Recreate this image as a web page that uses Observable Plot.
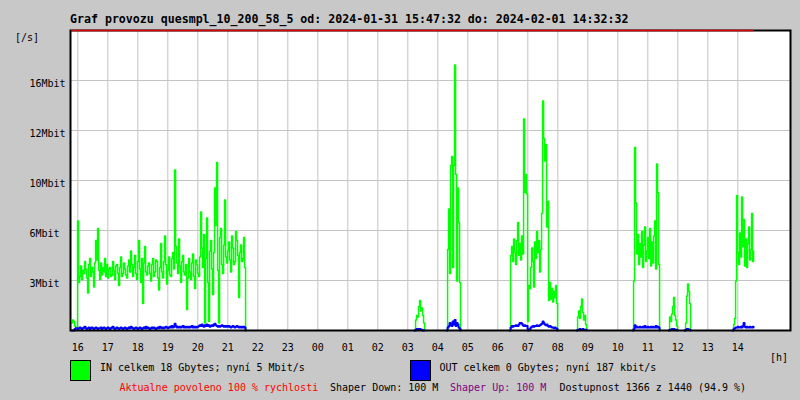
<!DOCTYPE html>
<html>
<head>
<meta charset="utf-8">
<script src="https://cdn.jsdelivr.net/npm/d3@7"></script>
<script src="https://cdn.jsdelivr.net/npm/@observablehq/plot@0.6"></script>
<style>
  html, body { margin: 0; padding: 0; background: #c8c8c8; }
  #wrap { position: relative; width: 800px; height: 400px; background: #c8c8c8; overflow: hidden; }
  #chart { position: absolute; left: 0; top: 0; }
  #overlay { position: absolute; left: 0; top: 0; pointer-events: none; }
  #overlay text { font-family: "DejaVu Sans Mono", monospace; font-size: 10px; }
</style>
</head>
<body>
<div id="wrap">
  <div id="chart"></div>
  <svg id="overlay" width="800" height="400">
    <text x="70" y="22.5" style="font-size:11.6px;font-weight:bold">Graf provozu quesmpl_10_200_58_5 od: 2024-01-31 15:47:32 do: 2024-02-01 14:32:32</text>
    <text x="15" y="40.5">[/s]</text>
    <text x="770" y="360.5">[h]</text>
    <rect x="70.5" y="360.5" width="20" height="20" fill="#00ff00" stroke="black"/>
    <text x="100" y="370.5">IN celkem 18 Gbytes; nyní 5 Mbit/s</text>
    <rect x="410.5" y="360.5" width="20" height="20" fill="#0000ff" stroke="black"/>
    <text x="439.5" y="370.5">OUT celkem 0 Gbytes; nyní 187 kbit/s</text>
    <text x="119.5" y="391" fill="#ff0000">Aktualne povoleno 100 % rychlosti</text>
    <text x="330" y="391" fill="#000000">Shaper Down: 100 M</text>
    <text x="450" y="391" fill="#800080">Shaper Up: 100 M</text>
    <text x="559.5" y="391" fill="#000000">Dostupnost 1366 z 1440 (94.9 %)</text>
  </svg>
</div>
<script>
// ---- data (Mbit/s) ----
const hourLabels = ["16","17","18","19","20","21","22","23","00","01","02","03","04","05","06","07","08","09","10","11","12","13","14"];
const yTicks = [3.333, 6.667, 10, 13.333, 16.667];
const yTickLabels = ["3Mbit", "6Mbit", "10Mbit", "12Mbit", "16Mbit"];
const periodStart = "2024-01-31T15:47:32Z";
const periodEnd = "2024-02-01T14:32:32Z";

const segStarts = ["2024-01-31T15:47:32Z", "2024-02-01T03:13:32Z", "2024-02-01T04:17:32Z", "2024-02-01T06:23:32Z",
                   "2024-02-01T08:37:32Z", "2024-02-01T10:29:32Z", "2024-02-01T11:41:32Z", "2024-02-01T12:13:32Z", "2024-02-01T13:49:32Z"];
const segStepMinutes = [2, 2, 2, 2, 2, 2, 2, 2, 2];

const inA = [0.5,0.7,0.6,0.3,0.2,0.2,
             7.3,
             3.2,3.6,4.3,3.4,4.0,3.8,4.6,4.1,3.5,2.5,
             4.4,4.8,3.6,4.2,3.9,2.9,4.5,6.0,4.7,6.8,
             4.0,3.4,4.5,3.7,4.2,3.9,4.8,3.6,4.4,3.5,
             4.1,4.2,3.6,3.7,4.6,4.0,3.4,4.3,4.4,3.8,
             3.0,4.2,4.9,3.6,3.8,4.5,4.1,3.7,3.5,4.3,
             4.7,3.9,5.3,4.4,3.6,4.2,5.0,3.8,3.4,4.6,
             6.0,4.1,3.2,4.8,1.8,4.5,5.6,3.9,3.7,4.3,
             4.5,3.8,3.3,4.4,4.8,3.6,3.9,4.7,4.6,3.5,
             2.7,4.2,5.8,3.9,3.5,4.6,6.3,4.4,3.1,4.0,
             4.9,3.7,3.6,4.8,5.2,4.1,10.7,5.6,4.5,3.8,
             6.1,4.3,3.2,4.6,5.0,3.9,3.7,4.4,1.4,3.5,
             4.8,3.9,3.4,4.5,5.1,3.6,2.8,4.7,4.4,3.8,
             3.6,4.9,7.9,5.5,4.2,6.4,0.5,4.8,7.5,3.2,
             0.6,5.3,6.0,4.1,2.4,5.2,9.5,7.0,11.2,4.0,
             0.5,6.2,6.8,4.4,3.8,5.7,8.7,4.9,4.5,5.3,
             5.9,4.7,3.9,6.3,5.5,4.4,4.6,6.6,6.0,5.0,
             2.2,5.2,5.7,4.6,4.8,6.2,4.2,
             0];
const inB = [0,0.7,1.0,0.9,1.6,2.0,1.3,1.5,1.0,0.5,0];
const inC = [0,5.4,8.1,3.8,11.0,11.6,4.2,11.0,17.7,10.4,3.3,9.5,7.2,3.2,0];
const inD = [0,5.0,5.6,4.6,6.1,5.2,4.4,6.0,7.2,5.0,5.8,4.7,6.3,5.1,14.1,9.2,10.4,9.1,0.6,3.0,
             2.8,4.2,5.5,4.6,2.9,5.9,4.8,6.6,5.2,6.0,3.9,5.4,7.8,15.3,12.8,11.3,12.4,6.9,8.6,2.0,
             3.2,2.1,2.8,1.9,2.6,2.2,3.0,1.8,0];
const inE = [0,0.9,1.3,0.8,1.6,2.1,1.2,0.7,1.0,0.4,0];
const inF = [0,3.3,12.2,8.5,5.1,6.4,4.4,5.8,4.9,6.6,4.2,5.7,6.9,4.6,5.3,6.2,4.8,6.8,4.3,5.9,
             4.5,6.3,7.3,4.1,11.1,9.2,4.4,0];
const inG = [0,0.9,0.6,1.1,1.6,2.2,1.0,0.7,0.3,0];
const inH = [0,0.5,2.3,3.1,2.6,1.8,0];
const inI = [0,0.4,0.8,3.3,9.0,5.2,4.4,6.5,4.9,8.9,5.6,7.4,4.3,6.1,4.2,5.8,6.9,4.7,5.4,7.8,4.6,5.3];

const outA = [0,0,0,0.1,0.15,0.15,
              0.1,0.15,0.2,0.15,0.1,0.15,0.2,0.25,0.15,0.1,
              0.15,0.2,0.1,0.15,0.2,0.15,0.1,0.15,0.2,0.15,
              0.1,0.15,0.15,0.2,0.1,0.15,0.2,0.15,0.1,0.15,
              0.2,0.15,0.1,0.15,0.2,0.25,0.15,0.1,0.15,0.2,
              0.15,0.1,0.15,0.2,0.15,0.1,0.15,0.2,0.15,0.1,
              0.15,0.2,0.15,0.25,0.2,0.15,0.1,0.15,0.2,0.15,
              0.1,0.15,0.2,0.15,0.1,0.15,0.2,0.15,0.25,0.15,
              0.2,0.15,0.1,0.15,0.2,0.15,0.2,0.15,0.1,0.15,
              0.2,0.15,0.25,0.2,0.15,0.2,0.15,0.2,0.25,0.2,
              0.15,0.2,0.25,0.2,0.3,0.2,0.25,0.45,0.3,0.2,
              0.25,0.2,0.25,0.2,0.25,0.3,0.2,0.25,0.2,0.25,
              0.2,0.25,0.2,0.25,0.3,0.2,0.25,0.2,0.25,0.2,
              0.25,0.3,0.35,0.3,0.4,0.3,0.25,0.35,0.3,0.4,
              0.3,0.35,0.25,0.3,0.35,0.3,0.4,0.45,0.35,0.3,
              0.25,0.3,0.25,0.3,0.35,0.3,0.25,0.3,0.25,0.3,
              0.25,0.3,0.25,0.2,0.25,0.3,0.25,0.2,0.25,0.3,
              0.25,0.2,0.25,0.2,0.25,0.2,0.25,0.2,
              0];
const outB = [0,0.05,0.1,0.1,0.05,0.1,0.05,0.05,0,0,0];
const outC = [0,0.2,0.3,0.5,0.4,0.3,0.6,0.4,0.7,0.3,0.5,0.4,0.2,0.1,0];
const outD = [0,0.2,0.3,0.25,0.3,0.3,0.35,0.3,0.3,0.4,0.5,0.5,0.45,0.35,0.3,0.35,0.3,0.3,0,0.05,
              0.1,0.2,0.25,0.3,0.25,0.3,0.3,0.35,0.3,0.3,0.35,0.4,0.45,0.6,0.5,0.4,0.35,0.4,0.3,0.25,
              0.3,0.25,0.2,0.2,0.15,0.2,0.15,0.1,0];
const outE = [0,0.05,0.05,0.1,0.05,0.05,0.1,0.05,0.05,0.05,0];
const outF = [0,0.1,0.35,0.2,0.25,0.2,0.2,0.25,0.2,0.2,0.25,0.2,0.3,0.2,0.2,0.25,0.2,0.2,0.25,0.2,
              0.25,0.2,0.2,0.3,0.2,0.25,0.2,0];
const outG = [0,0.05,0.05,0.1,0.05,0.1,0.05,0.05,0.05,0];
const outH = [0,0.05,0.1,0.1,0.05,0.05,0];
const outI = [0,0.1,0.15,0.2,0.2,0.25,0.2,0.2,0.25,0.2,0.3,0.5,0.25,0.2,0.25,0.2,0.2,0.25,0.2,0.2,0.25,0.2];

const segIn = [inA, inB, inC, inD, inE, inF, inG, inH, inI];
const segOut = [outA, outB, outC, outD, outE, outF, outG, outH, outI];

// ---- build tables ----
function rows(series) {
  const out = [];
  series.forEach((vals, s) => {
    const t0 = new Date(segStarts[s]).getTime();
    vals.forEach((v, i) => out.push({seg: s, t: new Date(t0 + i * segStepMinutes[s] * 60000), v}));
  });
  return out;
}
const inRows = rows(segIn);
const outRows = rows(segOut);

const hourTicks = hourLabels.map((h, i) => new Date(Date.UTC(2024, 0, 31, 16 + i)));
const hourLabelMap = new Map(hourTicks.map((d, i) => [+d, hourLabels[i]]));
const yLabelMap = new Map(yTicks.map((d, i) => [d, yTickLabels[i]]));
const xDomain = [new Date("2024-01-31T15:45:24Z"), new Date("2024-02-01T15:45:24Z")];

const chart = Plot.plot({
  width: 800,
  height: 360,
  marginLeft: 70,
  marginRight: 10,
  marginTop: 30,
  marginBottom: 30,
  style: {fontFamily: "DejaVu Sans Mono, monospace", fontSize: "10px", color: "black", background: "transparent", overflow: "visible"},
  x: {type: "utc", domain: xDomain},
  y: {domain: [0, 20]},
  marks: [
    Plot.frame({fill: "white"}),
    Plot.gridX(hourTicks, {stroke: "#c4c4c4", strokeOpacity: 1, strokeWidth: 1}),
    Plot.gridY(yTicks, {stroke: "#c4c4c4", strokeOpacity: 1, strokeWidth: 1}),
    Plot.line(inRows, {x: "t", y: "v", z: "seg", stroke: "#00ff00", strokeWidth: 1.5, curve: "step-after"}),
    Plot.line(outRows, {x: "t", y: "v", z: "seg", stroke: "#0000ff", strokeWidth: 2, curve: "step-after"}),
    Plot.frame({stroke: "black", strokeWidth: 2}),
    Plot.ruleY([20], {x1: new Date(periodStart), x2: new Date(periodEnd), stroke: "#e00000", strokeWidth: 1.5}),
    Plot.axisX(hourTicks, {tickFormat: d => hourLabelMap.get(+d), tickSize: 0, tickPadding: 13, label: null, fill: "black"}),
    Plot.axisY(yTicks, {tickFormat: d => yLabelMap.get(d), tickSize: 0, tickPadding: 41, textAnchor: "start", dy: 3, label: null, fill: "black"})
  ]
});
document.getElementById("chart").appendChild(chart);
</script>
</body>
</html>
